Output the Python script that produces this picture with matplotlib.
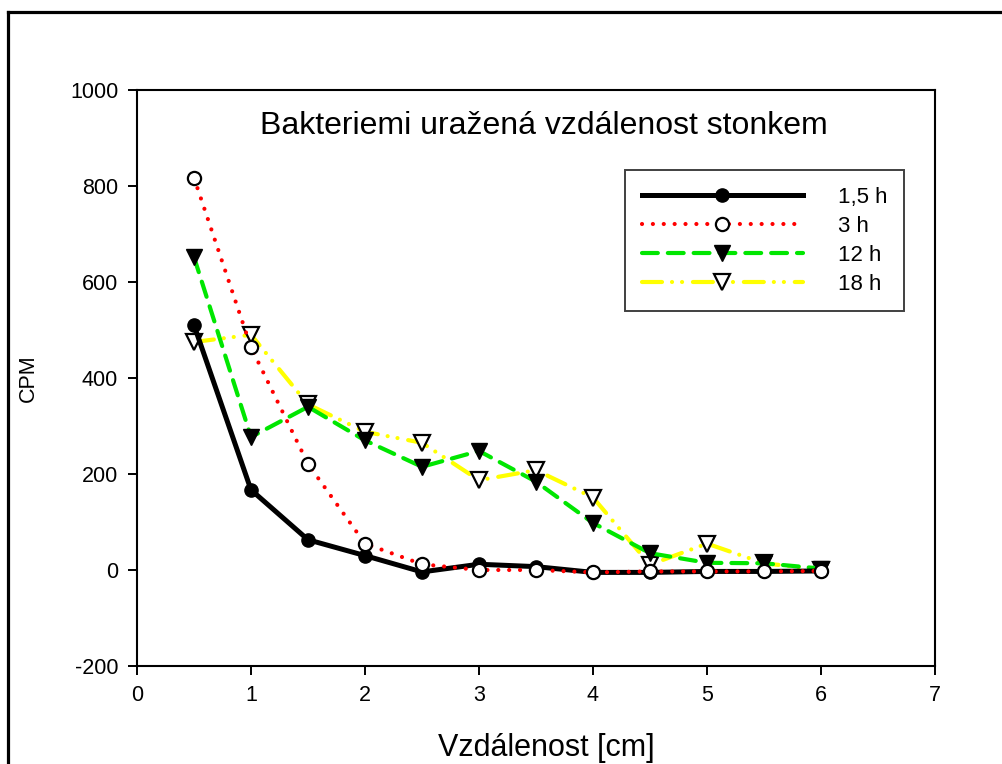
import matplotlib
matplotlib.use("Agg")
import matplotlib.pyplot as plt
from matplotlib.lines import Line2D

plt.rcParams['font.family'] = ['Liberation Sans', 'DejaVu Sans']
plt.rcParams['axes.unicode_minus'] = False

# distance along the stem [cm]
distance = [0.5, 1.0, 1.5, 2.0, 2.5, 3.0, 3.5, 4.0, 4.5, 5.0, 5.5, 6.0]

# CPM for each exposure time
cpm_1_5h = [510, 167, 63, 30, -4, 12, 7, -5, -5, -3, -3, -2]
cpm_3h = [817, 464, 221, 55, 12, 0, 0, -5, -3, -3, -3, -2]
cpm_12h = [652, 277, 340, 270, 215, 248, 184, 98, 35, 15, 14, 3]
cpm_18h = [475, 490, 345, 288, 265, 187, 208, 151, 11, 55, 14, 1]

series_labels = ["1,5 h", "3 h", "12 h", "18 h"]

W, H = 1002, 764
fig = plt.figure(figsize=(W / 100, H / 100), dpi=100)
fig.patch.set_facecolor('white')

# frame around the figure (left and top edges only visible)
fig.add_artist(Line2D([7.5 / W, 7.5 / W], [0, 1 - 11.5 / H], color='black', lw=2.3,
                      transform=fig.transFigure, solid_capstyle='projecting'))
fig.add_artist(Line2D([7.5 / W, 1], [1 - 11.5 / H, 1 - 11.5 / H], color='black', lw=2.3,
                      transform=fig.transFigure, solid_capstyle='projecting'))

ax = fig.add_axes([137 / W, 1 - 666 / H, (935 - 137) / W, (666 - 90) / H])

ax.plot(distance, cpm_1_5h, color='black', lw=3.6, marker='o', markersize=9.5,
        markerfacecolor='black', markeredgecolor='black', label=series_labels[0], zorder=5)
ax.plot(distance, cpm_3h, color='#ff0000', lw=3.0, linestyle=(0, (0.01, 2.6)),
        dash_capstyle='round', marker='o', markersize=9.5, markerfacecolor='white',
        markeredgecolor='black', markeredgewidth=1.6, label=series_labels[1], zorder=6)
ax.plot(distance, cpm_12h, color='#00e600', lw=3.0, linestyle=(0, (3.8, 2.4)),
        dash_capstyle='round', marker='v', markersize=11, markerfacecolor='black',
        markeredgecolor='black', label=series_labels[2], zorder=4)
ax.plot(distance, cpm_18h, color='#ffff00', lw=3.0,
        linestyle=(0, (4.8, 2.4, 0.01, 2.4, 0.01, 2.6)), dash_capstyle='round',
        marker='v', markersize=11, markerfacecolor='white', markeredgecolor='black',
        markeredgewidth=1.6, label=series_labels[3], zorder=3)

ax.set_xlim(0, 7)
ax.set_ylim(-200, 1000)
ax.set_xticks(range(0, 8))
ax.set_yticks(range(-200, 1001, 200))
ax.tick_params(direction='out', length=6.5, width=1.4, labelsize=15.5, pad=7)
for sp in ax.spines.values():
    sp.set_linewidth(1.5)

leg = ax.legend(loc='upper left', bbox_to_anchor=((625 - 137) / 798, (666 - 170) / 576),
                fontsize=16, handlelength=7.25, handletextpad=1.6, labelspacing=0.36,
                borderpad=0.75, borderaxespad=0, fancybox=False, framealpha=1,
                edgecolor='#404040')
leg.get_frame().set_linewidth(1.4)

fig.text(544 / W, 1 - 126 / H, "Bakteriemi uražená vzdálenost stonkem",
         ha='center', va='center', fontsize=23)
fig.text(546 / W, 1 - 748 / H, "Vzdálenost [cm]", ha='center', va='center', fontsize=22)
fig.text(28 / W, 1 - 378 / H, "CPM", ha='center', va='center', rotation=90, fontsize=15.5)

fig.savefig("out.png", dpi=100)
